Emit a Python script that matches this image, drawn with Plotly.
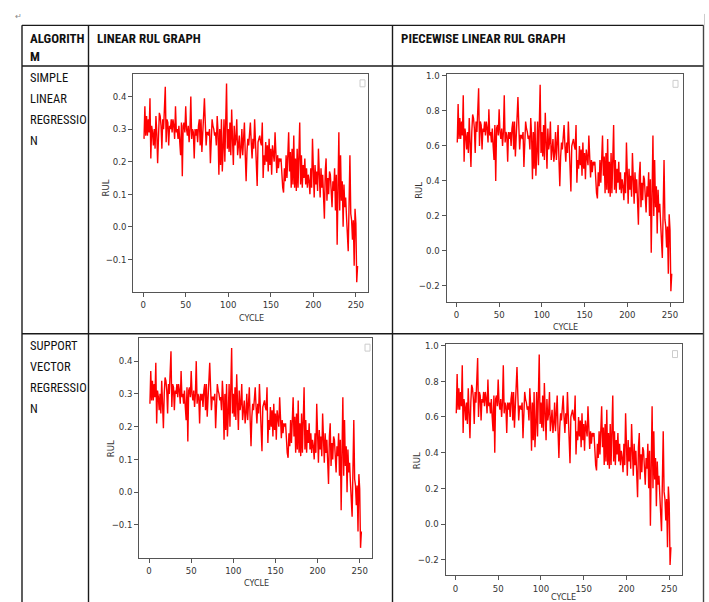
import plotly.graph_objects as go

# ---------------- data ----------------
cycles = list(range(1, 253))

linear_rul = [
    0.27, 0.37, 0.28, 0.34, 0.28, 0.33, 0.29, 0.395, 0.21, 0.31,
    0.29, 0.25, 0.30, 0.24, 0.34, 0.29, 0.195, 0.30, 0.35, 0.34,
    0.31, 0.24, 0.33, 0.30, 0.37, 0.43, 0.26, 0.33, 0.32, 0.25,
    0.31, 0.30, 0.33, 0.29, 0.33, 0.31, 0.27, 0.37, 0.29, 0.30,
    0.27, 0.31, 0.26, 0.22, 0.32, 0.155, 0.31, 0.32, 0.29, 0.37,
    0.30, 0.28, 0.31, 0.26, 0.30, 0.40, 0.27, 0.30, 0.29, 0.21,
    0.30, 0.28, 0.30, 0.26, 0.31, 0.33, 0.25, 0.33, 0.23, 0.29,
    0.37, 0.395, 0.32, 0.25, 0.29, 0.29, 0.28, 0.30, 0.195, 0.29,
    0.33, 0.31, 0.30, 0.28, 0.29, 0.25, 0.34, 0.29, 0.16, 0.30,
    0.19, 0.33, 0.17, 0.24, 0.33, 0.20, 0.30, 0.44, 0.24, 0.30,
    0.23, 0.32, 0.22, 0.36, 0.27, 0.19, 0.31, 0.25, 0.27, 0.33,
    0.22, 0.26, 0.28, 0.21, 0.24, 0.30, 0.22, 0.27, 0.32, 0.22,
    0.14, 0.23, 0.27, 0.25, 0.28, 0.32, 0.26, 0.21, 0.27, 0.24,
    0.33, 0.24, 0.22, 0.125, 0.26, 0.27, 0.28, 0.26, 0.25, 0.32,
    0.15, 0.22, 0.19, 0.26, 0.20, 0.25, 0.17, 0.27, 0.19, 0.24,
    0.16, 0.25, 0.21, 0.20, 0.29, 0.20, 0.165, 0.22, 0.18, 0.21,
    0.20, 0.21, 0.15, 0.12, 0.105, 0.18, 0.14, 0.22, 0.15, 0.20,
    0.29, 0.17, 0.23, 0.12, 0.24, 0.13, 0.28, 0.12, 0.21, 0.11,
    0.24, 0.12, 0.20, 0.32, 0.13, 0.22, 0.12, 0.19, 0.15, 0.21,
    0.13, 0.18, 0.12, 0.16, 0.14, 0.10, 0.18, 0.12, 0.27, 0.15,
    0.09, 0.19, 0.13, 0.17, 0.11, 0.24, 0.14, 0.09, 0.18, 0.12,
    0.16, 0.07, 0.025, 0.17, 0.21, 0.08, 0.15, 0.10, 0.17, 0.16,
    0.09, 0.06, 0.14, 0.11, 0.18, 0.05, 0.16, -0.055, 0.12, 0.29,
    0.05, 0.22, 0.08, 0.14, 0.0, 0.13, 0.06, 0.09, 0.03, -0.04,
    -0.075, 0.07, 0.22, 0.04, 0.02, -0.04, 0.02, -0.12, 0.055, 0.01,
    -0.17, -0.12,
]

piecewise_rul = [
    0.62, 0.84, 0.64, 0.76, 0.64, 0.74, 0.66, 0.89, 0.51, 0.70,
    0.66, 0.58, 0.68, 0.56, 0.76, 0.66, 0.48, 0.68, 0.78, 0.76,
    0.70, 0.56, 0.74, 0.68, 0.81, 0.93, 0.60, 0.74, 0.72, 0.58,
    0.70, 0.68, 0.74, 0.66, 0.74, 0.70, 0.62, 0.81, 0.66, 0.68,
    0.62, 0.70, 0.60, 0.52, 0.72, 0.40, 0.70, 0.72, 0.66, 0.81,
    0.68, 0.64, 0.70, 0.60, 0.68, 0.89, 0.62, 0.68, 0.66, 0.51,
    0.68, 0.64, 0.68, 0.60, 0.70, 0.74, 0.58, 0.74, 0.54, 0.66,
    0.81, 0.88, 0.72, 0.58, 0.66, 0.66, 0.64, 0.68, 0.48, 0.66,
    0.74, 0.70, 0.68, 0.64, 0.66, 0.58, 0.76, 0.66, 0.41, 0.68,
    0.47, 0.74, 0.43, 0.56, 0.74, 0.49, 0.68, 0.95, 0.56, 0.68,
    0.54, 0.72, 0.52, 0.79, 0.62, 0.47, 0.70, 0.58, 0.62, 0.74,
    0.52, 0.60, 0.64, 0.51, 0.56, 0.68, 0.52, 0.62, 0.72, 0.52,
    0.37, 0.54, 0.62, 0.58, 0.64, 0.72, 0.60, 0.51, 0.62, 0.56,
    0.74, 0.56, 0.52, 0.34, 0.60, 0.62, 0.64, 0.60, 0.58, 0.72,
    0.39, 0.52, 0.47, 0.60, 0.49, 0.58, 0.43, 0.62, 0.47, 0.56,
    0.41, 0.58, 0.51, 0.49, 0.66, 0.49, 0.42, 0.52, 0.45, 0.51,
    0.49, 0.51, 0.39, 0.33, 0.30, 0.45, 0.37, 0.52, 0.39, 0.49,
    0.66, 0.43, 0.54, 0.33, 0.56, 0.35, 0.64, 0.33, 0.51, 0.31,
    0.56, 0.33, 0.49, 0.72, 0.35, 0.52, 0.33, 0.47, 0.39, 0.51,
    0.35, 0.45, 0.33, 0.41, 0.37, 0.29, 0.45, 0.33, 0.62, 0.39,
    0.27, 0.47, 0.35, 0.43, 0.31, 0.56, 0.37, 0.27, 0.45, 0.33,
    0.41, 0.24, 0.15, 0.43, 0.51, 0.25, 0.39, 0.29, 0.43, 0.41,
    0.27, 0.22, 0.37, 0.31, 0.45, 0.20, 0.41, -0.01, 0.33, 0.66,
    0.20, 0.52, 0.25, 0.37, 0.10, 0.35, 0.22, 0.27, 0.16, 0.02,
    -0.04, 0.24, 0.52, 0.18, 0.14, 0.02, 0.14, -0.13, 0.21, 0.12,
    -0.23, -0.13,
]

x_ticks = [0, 50, 100, 150, 200, 250]
linear_y_ticks = [-0.1, 0.0, 0.1, 0.2, 0.3, 0.4]
piecewise_y_ticks = [-0.2, 0.0, 0.2, 0.4, 0.6, 0.8, 1.0]

header_labels = ["LINEAR RUL GRAPH", "PIECEWISE LINEAR RUL GRAPH"]
algo_header_lines = ["ALGORITH", "M"]
row_labels = [["SIMPLE", "LINEAR", "REGRESSIO", "N"],
              ["SUPPORT", "VECTOR", "REGRESSIO", "N"]]

# ---------------- layout helpers ----------------
W, H = 709, 602
def fx(x):
    return x / W
def fy(y):
    return 1 - y / H

TFONT = "Liberation Sans Narrow, Arial Narrow, Roboto Condensed, Liberation Sans, sans-serif"
AFONT = "Liberation Sans Narrow, Arial Narrow, DejaVu Sans Condensed, Liberation Sans, sans-serif"

panels = [
    dict(xd=(133.3, 368.3), yd=(70, 289.3), yr=[-0.2, 0.468], yt=linear_y_ticks,
         data=linear_rul, rul=(105, 185), cyc=(251.7, 315.7), leg=(360, 75.5)),
    dict(xd=(446.5, 682.5), yd=(70, 299), yr=[-0.289, 1.009], yt=piecewise_y_ticks,
         data=piecewise_rul, rul=(417.7, 186.7), cyc=(565, 325), leg=(673, 76)),
    dict(xd=(139.3, 372.0), yd=(336, 557.3), yr=[-0.2, 0.47], yt=linear_y_ticks,
         data=linear_rul, rul=(110, 448), cyc=(256, 583), leg=(365, 342)),
    dict(xd=(445.5, 681.7), yd=(342.3, 575), yr=[-0.287, 1.006], yt=piecewise_y_ticks,
         data=piecewise_rul, rul=(416, 460), cyc=(563.3, 597.3), leg=(672.5, 348.5)),
]

fig = go.Figure()
layout = dict(
    width=W, height=H, autosize=False,
    margin=dict(l=0, r=0, t=0, b=0, pad=0),
    paper_bgcolor="white", plot_bgcolor="white",
    showlegend=False,
)
annotations = []
shapes = []

for i, p in enumerate(panels):
    n = "" if i == 0 else str(i + 1)
    fig.add_trace(go.Scatter(
        x=cycles, y=p["data"], mode="lines",
        line=dict(color="#ff0000", width=1.4),
        xaxis="x" + n, yaxis="y" + n, hoverinfo="skip",
    ))
    axis_common = dict(
        showgrid=False, zeroline=False, showline=True, mirror=True,
        linecolor="#555555", linewidth=1, ticks="outside", ticklen=4,
        tickcolor="#555555", tickwidth=1,
        tickfont=dict(family=AFONT, size=9.5, color="#333333"),
    )
    layout["xaxis" + n] = dict(
        domain=[fx(p["xd"][0]), fx(p["xd"][1])], range=[-11.6, 264.6],
        anchor="y" + n, tickvals=x_ticks, **axis_common)
    layout["yaxis" + n] = dict(
        domain=[fy(p["yd"][1]), fy(p["yd"][0])], range=p["yr"],
        anchor="x" + n, tickvals=p["yt"], tickformat=".1f", **axis_common)
    annotations.append(dict(
        x=fx(p["rul"][0]), y=fy(p["rul"][1]), xref="paper", yref="paper",
        xanchor="center", yanchor="middle",
        text="RUL", showarrow=False, textangle=-90,
        font=dict(family=AFONT, size=9.5, color="#333333")))
    annotations.append(dict(
        x=fx(p["cyc"][0]), y=fy(p["cyc"][1]), xref="paper", yref="paper",
        xanchor="center", yanchor="middle",
        text="CYCLE", showarrow=False,
        font=dict(family=AFONT, size=9, color="#333333")))
    lx, ly = p["leg"]
    shapes.append(dict(type="rect", xref="paper", yref="paper",
                       x0=fx(lx), x1=fx(lx + 5), y0=fy(ly + 7), y1=fy(ly),
                       line=dict(color="#cccccc", width=1), fillcolor="white"))

# ---------------- table lines ----------------
LC = "#1a1a1a"
def hline(y, x0, x1, color=LC, w=1.4):
    shapes.append(dict(type="line", xref="paper", yref="paper",
                       x0=fx(x0), x1=fx(x1), y0=fy(y), y1=fy(y),
                       line=dict(color=color, width=w)))
def vline(x, y0, y1, color=LC, w=1.4):
    shapes.append(dict(type="line", xref="paper", yref="paper",
                       x0=fx(x), x1=fx(x), y0=fy(y0), y1=fy(y1),
                       line=dict(color=color, width=w)))

hline(20.5, 22, 703.5)
hline(61.5, 22, 703.5)
hline(331.5, 22, 703.5)
vline(22, 20.5, 602)
vline(88.5, 20.5, 602)
vline(392.5, 20.5, 602)
vline(703.5, 20.5, 602, color="#444444")
vline(704.5, 9, 20.5, color="#cccccc", w=1)

# ---------------- table text ----------------
def text(x, y, s, bold=False, size=12.5, color="#111111", family=TFONT):
    annotations.append(dict(
        x=fx(x), y=fy(y), xref="paper", yref="paper", text=s,
        showarrow=False, xanchor="left", yanchor="middle",
        font=dict(family=family, size=size, color=color,
                  weight="bold" if bold else "normal")))

text(13, 12, "↵", size=8, color="#888888")
text(28, 33.5, algo_header_lines[0], bold=True, size=13)
text(28, 52, algo_header_lines[1], bold=True, size=13)
text(94.5, 33.5, header_labels[0], bold=True, size=13)
text(398.5, 33.5, header_labels[1], bold=True, size=13)

for k, line in enumerate(row_labels[0]):
    text(28, 73.5 + 21 * k, line)
for k, line in enumerate(row_labels[1]):
    text(28, 343.5 + 21 * k, line)

layout["annotations"] = annotations
layout["shapes"] = shapes
fig.update_layout(**layout)

fig.write_html(
    "out.html",
    config={"displayModeBar": False},
    post_script="document.body.style.margin='0';document.body.style.padding='0';"
                "document.documentElement.style.overflow='hidden';",
)
